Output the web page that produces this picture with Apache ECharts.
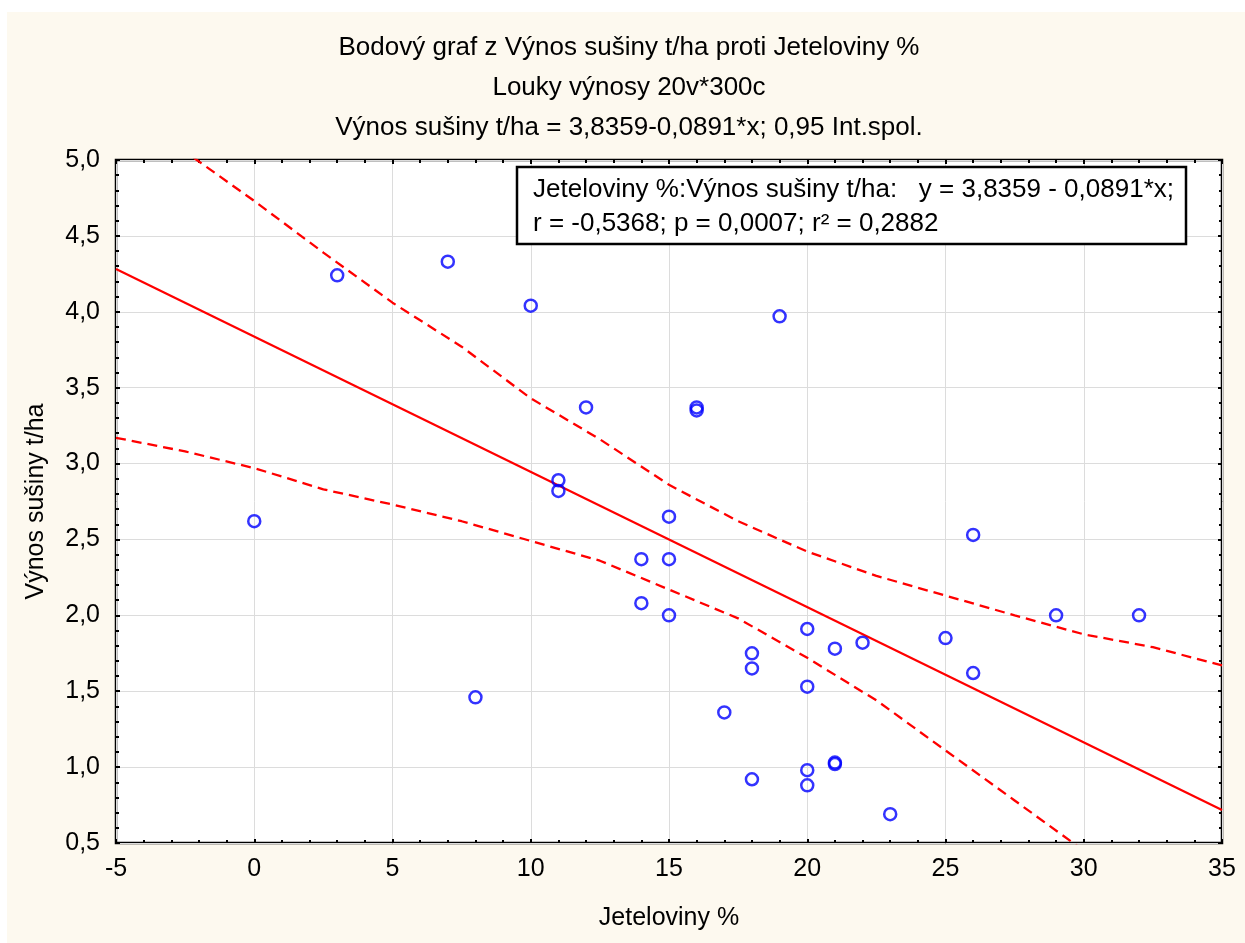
<!DOCTYPE html>
<html>
<head>
<meta charset="utf-8">
<script src="https://cdn.jsdelivr.net/npm/echarts@6/dist/echarts.min.js"></script>
<style>
html,body{margin:0;padding:0;background:#fff;}
#chart{width:1245px;height:943px;}
</style>
</head>
<body>
<div id="chart"></div>
<script>
// ---- data ----
var titleLines = [
  'Bodový graf z Výnos sušiny t/ha proti Jeteloviny %',
  'Louky výnosy 20v*300c',
  'Výnos sušiny t/ha = 3,8359-0,0891*x; 0,95 Int.spol.'
];
var xAxisTitle = 'Jeteloviny %';
var yAxisTitle = 'Výnos sušiny t/ha';
var statLine1 = 'Jeteloviny %:Výnos sušiny t/ha:   y = 3,8359 - 0,0891*x;';
var statLine2 = 'r = -0,5368; p = 0,0007; r² = 0,2882';

var pointsX = [3, 7, 10, 19, 12, 16, 16, 11, 11, 15, 14, 15, 14, 15, 20, 21, 22, 18, 18, 20, 17, 18, 20, 20, 21, 21, 23, 0, 8, 26, 29, 32, 25, 26];
var pointsY = [4.24, 4.33, 4.04, 3.97, 3.37, 3.37, 3.35, 2.89, 2.82, 2.65, 2.37, 2.37, 2.08, 2.00, 1.91, 1.78, 1.82, 1.75, 1.65, 1.53, 1.36, 0.92, 0.98, 0.88, 1.03, 1.02, 0.69, 2.62, 1.46, 2.53, 2.00, 2.00, 1.85, 1.62];

var fitX = [-5, 35];
var fitY = [4.2814, 0.7174];

var upperX = [-5, -2, 0, 2.5, 5, 7.5, 10, 12.5, 15, 17.5, 20, 22.5, 25, 27.5, 30, 32.5, 35];
var upperY = [5.39, 4.99, 4.73, 4.39, 4.06, 3.77, 3.43, 3.16, 2.86, 2.62, 2.42, 2.26, 2.13, 2.00, 1.875, 1.79, 1.67];

var lowerX = [-5, -2.5, 0, 2.5, 5, 7.5, 10, 12.5, 15, 17.5, 20, 22.5, 25, 27.5, 30];
var lowerY = [3.17, 3.08, 2.97, 2.83, 2.73, 2.62, 2.49, 2.36, 2.17, 1.98, 1.72, 1.44, 1.11, 0.78, 0.45];

var xMin = -5, xMax = 35, xStep = 5;
var yMin = 0.5, yMax = 5.0, yStep = 0.5;

function zip(a, b) { return a.map(function (v, i) { return [v, b[i]]; }); }

var FONT = "'Liberation Sans', Arial, sans-serif";
var chart = echarts.init(document.getElementById('chart'), null, {renderer: 'canvas'});

function mkX(pos, show) {
  return {
    type: 'value', position: pos, min: xMin, max: xMax, interval: xStep,
    axisLine: {show: false, onZero: false},
    axisTick: {show: true, inside: true, length: 4, lineStyle: {color: '#000', width: 2}},
    minorTick: {show: true, splitNumber: 5, length: 3, lineStyle: {color: '#000', width: 2}},
    splitLine: {show: show, lineStyle: {color: '#dcdcdc', width: 1}},
    axisLabel: {show: show, color: '#000', fontSize: 25, fontFamily: FONT, margin: 14,
      formatter: function (v) { return String(v); }},
    name: show ? xAxisTitle : '', nameLocation: 'middle', nameGap: 63,
    nameTextStyle: {color: '#000', fontSize: 25, fontFamily: FONT}
  };
}
function mkY(pos, show) {
  return {
    type: 'value', position: pos, min: yMin, max: yMax, interval: yStep,
    axisLine: {show: false, onZero: false},
    axisTick: {show: true, inside: true, length: 4, lineStyle: {color: '#000', width: 2}},
    minorTick: {show: true, splitNumber: 5, length: 3, lineStyle: {color: '#000', width: 2}},
    splitLine: {show: show, lineStyle: {color: '#dcdcdc', width: 1}},
    axisLabel: {show: show, color: '#000', fontSize: 25, fontFamily: FONT, margin: 16,
      formatter: function (v) { return v.toFixed(1).replace('.', ','); }},
    name: show ? yAxisTitle : '', nameLocation: 'middle', nameGap: 67, nameRotate: 90,
    nameTextStyle: {color: '#000', fontSize: 25, fontFamily: FONT}
  };
}

var option = {
  backgroundColor: '#fff',
  animation: false,
  grid: {left: 116, top: 160, right: 23, bottom: 100, show: true,
    backgroundColor: '#fff', borderColor: '#000', borderWidth: 2.5},
  xAxis: [mkX('bottom', true), mkX('top', false)],
  yAxis: [mkY('left', true), mkY('right', false)],
  graphic: [
    {type: 'rect', z: -100, silent: true, shape: {x: 7, y: 12, width: 1238, height: 931},
      style: {fill: '#fdf9ef'}},
    {type: 'text', z: 10, x: 629, y: 48, style: {text: titleLines[0], fontSize: 26, fontFamily: FONT, fill: '#000', align: 'center', verticalAlign: 'middle'}},
    {type: 'text', z: 10, x: 629, y: 88, style: {text: titleLines[1], fontSize: 26, fontFamily: FONT, fill: '#000', align: 'center', verticalAlign: 'middle'}},
    {type: 'text', z: 10, x: 629, y: 128, style: {text: titleLines[2], fontSize: 26, fontFamily: FONT, fill: '#000', align: 'center', verticalAlign: 'middle'}},
    {type: 'rect', z: 10, shape: {x: 517, y: 167, width: 669, height: 77},
      style: {fill: '#fff', stroke: '#000', lineWidth: 2.5}},
    {type: 'text', z: 11, x: 533, y: 190, style: {text: statLine1, fontSize: 26, fontFamily: FONT, fill: '#000', align: 'left', verticalAlign: 'middle'}},
    {type: 'text', z: 11, x: 533, y: 224, style: {text: statLine2, fontSize: 26, fontFamily: FONT, fill: '#000', align: 'left', verticalAlign: 'middle'}}
  ],
  series: [
    {type: 'line', data: zip(fitX, fitY), showSymbol: false, symbol: 'none',
      lineStyle: {color: '#ff0000', width: 2.2}, clip: true, z: 3},
    {type: 'line', data: zip(upperX, upperY), showSymbol: false, symbol: 'none',
      lineStyle: {color: '#ff0000', width: 2.3, type: [10, 6]}, clip: true, z: 3},
    {type: 'line', data: zip(lowerX, lowerY), showSymbol: false, symbol: 'none',
      lineStyle: {color: '#ff0000', width: 2.3, type: [10, 6]}, clip: true, z: 3},
    {type: 'scatter', data: zip(pointsX, pointsY), symbol: 'circle', symbolSize: 12,
      itemStyle: {color: 'rgba(255,255,255,0)', borderColor: '#0000ff', borderWidth: 2.5}, z: 4}
  ]
};
chart.setOption(option);
</script>
</body>
</html>
